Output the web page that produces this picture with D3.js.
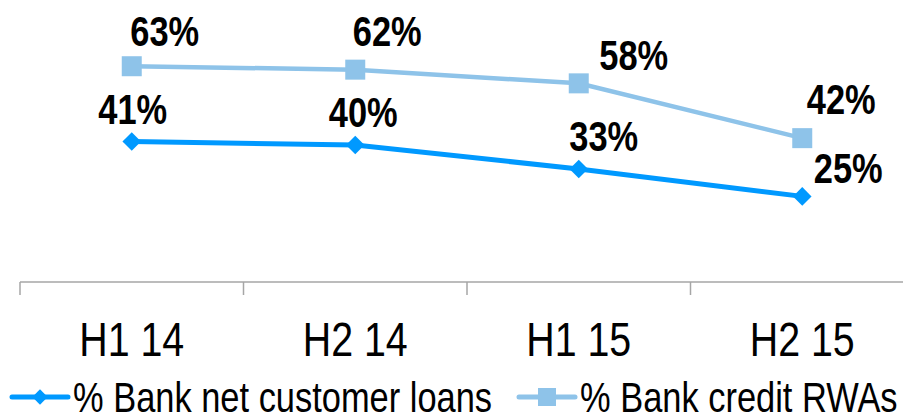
<!DOCTYPE html>
<html>
<head>
<meta charset="utf-8">
<script src="https://cdn.jsdelivr.net/npm/d3@7"></script>
<style>
  body { margin: 0; background: #fff; }
  svg { display: block; font-family: "Liberation Sans", Arial, sans-serif; }
</style>
</head>
<body>
<div id="chart"></div>
<script>
// data
var categories = ["H1 14", "H2 14", "H1 15", "H2 15"];
var loans = [41, 40, 33, 25];   // % Bank net customer loans
var rwas = [63, 62, 58, 42];    // % Bank credit RWAs
var seriesNames = ["% Bank net customer loans", "% Bank credit RWAs"];

// where each value label sits relative to its point (dx of centre, dy of baseline)
var loanLabelOffsets = [[1, -18], [8, -18], [25, -18], [46, -13]];
var rwaLabelOffsets = [[33, -20], [32, -24], [55, -13], [39, -24]];

var width = 903, height = 415;
var blue = "#0099ff", lightBlue = "#8ec3e9";
var narrow = 0.82; // no Arial Narrow here, so squeeze the text

var svg = d3.select("#chart").append("svg")
    .attr("width", width)
    .attr("height", height);

var x = d3.scaleBand()
    .domain(categories)
    .range([20, 914])
    .padding(0);

var y = d3.scaleLinear()
    .domain([0, 80])
    .range([282, 8]);

var cx = function(i) { return x(categories[i]) + x.bandwidth() / 2; };

function squeeze(px, py) {
    return "translate(" + px + "," + py + ") scale(" + narrow + ",1)";
}

/* x axis: plain line with tick marks between the categories */
var axis = svg.append("g").attr("class", "x axis");
axis.append("line")
    .attr("x1", 20).attr("x2", width)
    .attr("y1", y(0)).attr("y2", y(0))
    .attr("stroke", "#a6a6a6")
    .attr("stroke-width", 1.5);

axis.selectAll(".tick")
    .data(categories)
    .enter()
    .append("line")
    .attr("x1", function(d) { return x(d); })
    .attr("x2", function(d) { return x(d); })
    .attr("y1", y(0))
    .attr("y2", y(0) + 13)
    .attr("stroke", "#a6a6a6")
    .attr("stroke-width", 1.5);

axis.selectAll(".cat")
    .data(categories)
    .enter()
    .append("text")
    .attr("transform", function(d) { return squeeze(x(d) + x.bandwidth() / 2, 356); })
    .attr("text-anchor", "middle")
    .style("font-size", "48px")
    .style("fill", "#000")
    .text(function(d) { return d; });

var line = d3.line()
    .x(function(d, i) { return cx(i); })
    .y(function(d) { return y(d); });

/* RWAs series */
svg.append("path")
    .datum(rwas)
    .attr("d", line)
    .attr("fill", "none")
    .attr("stroke", lightBlue)
    .attr("stroke-width", 4.5);

svg.selectAll(".sq")
    .data(rwas)
    .enter()
    .append("rect")
    .attr("x", function(d, i) { return cx(i) - 10; })
    .attr("y", function(d) { return y(d) - 10; })
    .attr("width", 20)
    .attr("height", 20)
    .attr("fill", lightBlue);

/* loans series */
svg.append("path")
    .datum(loans)
    .attr("d", line)
    .attr("fill", "none")
    .attr("stroke", blue)
    .attr("stroke-width", 5);

var diamond = d3.symbol().type(d3.symbolDiamond2).size(220);
svg.selectAll(".dm")
    .data(loans)
    .enter()
    .append("path")
    .attr("d", diamond)
    .attr("transform", function(d, i) { return "translate(" + cx(i) + "," + y(d) + ")"; })
    .attr("fill", blue);

/* value labels */
function addLabels(data, offsets) {
    svg.selectAll(null)
        .data(data)
        .enter()
        .append("text")
        .attr("transform", function(d, i) {
            return squeeze(cx(i) + offsets[i][0], y(d) + offsets[i][1]);
        })
        .attr("text-anchor", "middle")
        .style("font-size", "42px")
        .style("font-weight", "bold")
        .style("fill", "#000")
        .text(function(d) { return d + "%"; });
}
addLabels(rwas, rwaLabelOffsets);
addLabels(loans, loanLabelOffsets);

/* legend */
var legend = svg.append("g").attr("class", "legend");
var legendItems = [
    { name: seriesNames[0], color: blue, x: 12, shape: "diamond" },
    { name: seriesNames[1], color: lightBlue, x: 519, shape: "square" }
];
legendItems.forEach(function(it) {
    legend.append("line")
        .attr("x1", it.x).attr("x2", it.x + 56)
        .attr("y1", 397).attr("y2", 397)
        .attr("stroke", it.color)
        .attr("stroke-width", 5)
        .attr("stroke-linecap", "round");
    if (it.shape === "diamond") {
        legend.append("path")
            .attr("d", d3.symbol().type(d3.symbolDiamond2).size(150))
            .attr("transform", "translate(" + (it.x + 28) + ",397)")
            .attr("fill", it.color);
    } else {
        legend.append("rect")
            .attr("x", it.x + 28 - 9).attr("y", 397 - 9)
            .attr("width", 18).attr("height", 18)
            .attr("fill", it.color);
    }
    legend.append("text")
        .attr("transform", squeeze(it.x + 61, 412))
        .style("font-size", "42px")
        .style("fill", "#000")
        .text(it.name);
});
</script>
</body>
</html>
